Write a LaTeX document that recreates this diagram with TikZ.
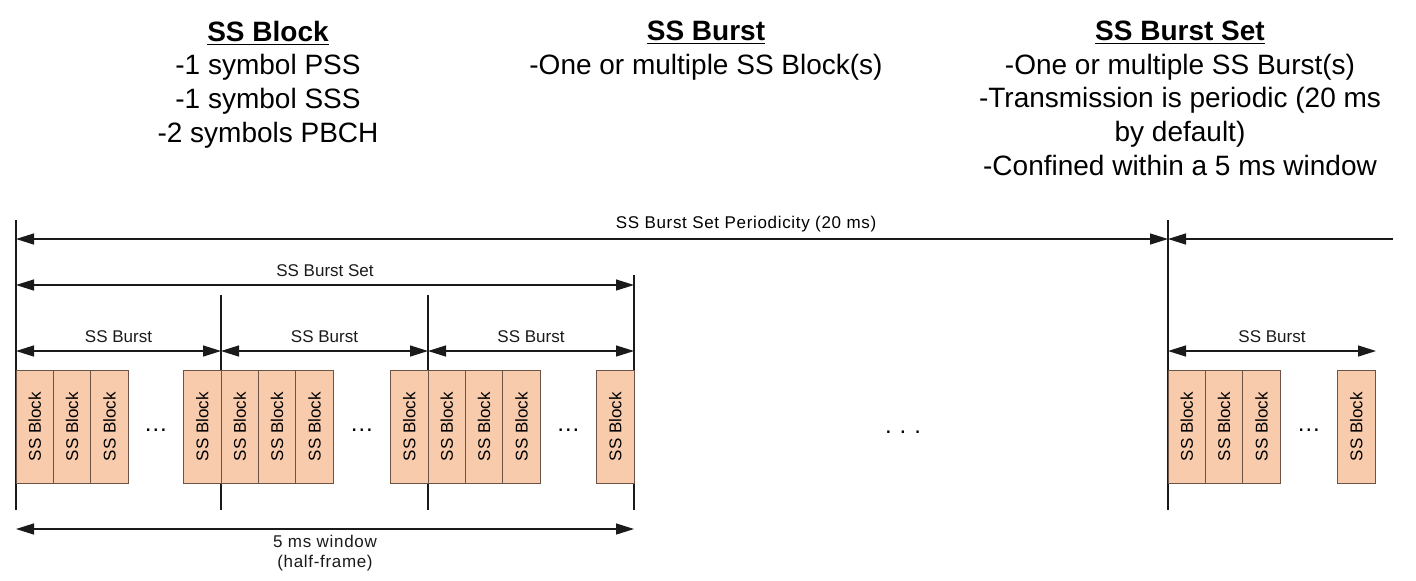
\documentclass[tikz,border=0pt]{standalone}
\usepackage{fontspec}
\setmainfont{Liberation Sans}
\usetikzlibrary{arrows.meta}
\definecolor{peach}{HTML}{F8CBAD}
\definecolor{edge}{HTML}{6B5446}
\definecolor{ink}{HTML}{1A1A1A}
\tikzset{
  ssblock/.style={draw=edge,fill=peach,rotate=90,minimum width=56.5pt,minimum height=18.7pt,
    inner sep=0pt,font=\fontsize{8.5}{10}\selectfont},
  dimline/.style={ink,line width=0.65pt,{Triangle[length=9pt,width=5.5pt]}-{Triangle[length=9pt,width=5.5pt]}},
  halfdim/.style={ink,line width=0.65pt,-{Triangle[length=9pt,width=5.5pt]}},
  tick/.style={ink,line width=0.65pt},
  lbl/.style={font=\fontsize{8.5}{10}\selectfont,inner sep=1pt},
  widelbl/.style={font=\fontsize{8.5}{10}\selectfont\addfontfeature{LetterSpace=4},inner sep=1pt},
  head/.style={align=center,font=\fontsize{14}{16.8}\selectfont,anchor=north}
}
\begin{document}
\begin{tikzpicture}[x=0.5pt,y=-0.5pt]
  \useasboundingbox (0,0) rectangle (1416,580);

  % headings
  \node[head] (hblock) at (268,14) {\textbf{\underline{SS Block}}\\-1 symbol PSS\\-1 symbol SSS\\-2 symbols PBCH};
  \node[head] (hburst) at (706,14) {\textbf{\underline{SS Burst}}\\-One or multiple SS Block(s)};
  \node[head] (hset) at (1180,14) {\textbf{\underline{SS Burst Set}}\\-One or multiple SS Burst(s)\\-Transmission is periodic (20 ms\\by default)\\-Confined within a 5 ms window};

  % boundaries
  \coordinate (b0) at (16,239);
  \coordinate (b1) at (221,351);
  \coordinate (b2) at (428,351);
  \coordinate (b3) at (634,285);
  \coordinate (b4) at (1168,239);
  \coordinate (bend) at (1393,239);
  \draw[tick] (16,220) -- (16,510);
  \draw[tick] (221,295) -- (221,510);
  \draw[tick] (428,295) -- (428,510);
  \draw[tick] (634,275) -- (634,510);
  \draw[tick] (1168,220) -- (1168,510);

  % blocks
  \foreach \g/\e [count=\i] in {16/221,221/428,428/634,1168/1375}{
    \foreach \k in {0,1,2}
      \node[ssblock] (blk\i-\k) at ({\g+18.7+37.4*\k},426.5) {SS Block};
    \node[ssblock] (blk\i-n) at ({\e-18.7},426.5) {SS Block};
    \node[lbl,font=\fontsize{12}{12}\selectfont] (dots\i) at ({(\g+112.2+\e-37.4)/2},430) {\dots};
  }
  \node[font=\fontsize{12}{12}\selectfont] (gap) at (903,432) {.\,\,.\,\,.};

  % periodicity
  \draw[dimline] (b0) -- (b4);
  \node[widelbl] (lper) at (746,224) {SS Burst Set Periodicity (20 ms)};
  \draw[halfdim] (bend) -- (b4);

  % burst set
  \draw[dimline] (16,285) -- (b3) node[lbl,midway,above=3pt] (lset) {SS Burst Set};

  % bursts
  \draw[dimline] (16,351) -- (b1) node[lbl,midway,above=3pt] (lb1) {SS Burst};
  \draw[dimline] (b1) -- (b2) node[lbl,midway,above=3pt] (lb2) {SS Burst};
  \draw[dimline] (b2) -- (634,351) node[lbl,midway,above=3pt] (lb3) {SS Burst};
  \draw[dimline] (1168,351) -- (1376,351) node[lbl,midway,above=3pt] (lb4) {SS Burst};

  % window
  \draw[dimline] (16,529) -- (634,529) node[widelbl,midway,below=2pt,align=center] (lwin) {5 ms window\\(half-frame)};
\end{tikzpicture}
\end{document}
